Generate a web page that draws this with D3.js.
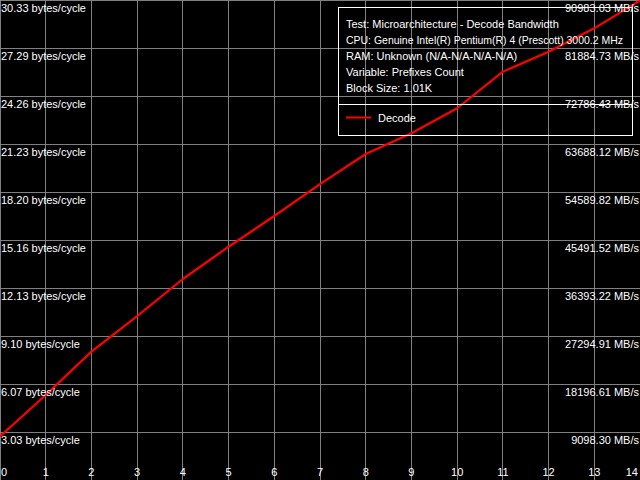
<!DOCTYPE html>
<html>
<head>
<meta charset="utf-8">
<script src="https://cdn.jsdelivr.net/npm/d3@7"></script>
<style>
  html, body { margin: 0; padding: 0; background: #000; }
  svg { display: block; }
  text { font-family: "Liberation Sans", Arial, sans-serif; font-size: 11px; fill: #fff; }
</style>
</head>
<body>
<svg id="chart" width="640" height="480"></svg>
<script>
// ---- data ----
const prefixCounts = [0, 1, 2, 3, 4, 5, 6, 7, 8, 9, 10, 11, 12, 13, 14];
const decodeValues = [2.75, 5.37, 8.11, 10.36, 12.70, 14.74, 16.68, 18.70, 20.60, 21.91, 23.49, 25.80, 27.06, 28.54, 30.30];
const yTickValues = [3.033, 6.066, 9.099, 12.132, 15.165, 18.198, 21.231, 24.264, 27.297, 30.33];
const yTickLabelsLeft = ["3.03 bytes/cycle", "6.07 bytes/cycle", "9.10 bytes/cycle", "12.13 bytes/cycle", "15.16 bytes/cycle",
  "18.20 bytes/cycle", "21.23 bytes/cycle", "24.26 bytes/cycle", "27.29 bytes/cycle", "30.33 bytes/cycle"];
const yTickLabelsRight = ["9098.30 MB/s", "18196.61 MB/s", "27294.91 MB/s", "36393.22 MB/s", "45491.52 MB/s",
  "54589.82 MB/s", "63688.12 MB/s", "72786.43 MB/s", "81884.73 MB/s", "90983.03 MB/s"];
const xTickValues = [0, 1, 2, 3, 4, 5, 6, 7, 8, 9, 10, 11, 12, 13, 14];
const infoLines = [
  "Test: Microarchitecture - Decode Bandwidth",
  "CPU: Genuine Intel(R) Pentium(R) 4 (Prescott) 3000.2 MHz",
  "RAM: Unknown (N/A-N/A-N/A-N/A)",
  "Variable: Prefixes Count",
  "Block Size: 1.01K"
];
const seriesName = "Decode";

// ---- chart ----
const W = 640, H = 480;
const svg = d3.select("#chart");
svg.append("rect").attr("width", W).attr("height", H).attr("fill", "#000");

const x = d3.scaleLinear().domain([0, 14]).range([0, W]);
const y = d3.scaleLinear().domain([0, 30.33]).range([H, 0]);

const gx = v => Math.floor(x(v)) + 0.5;
const gy = v => Math.round(y(v)) + 0.5;

// grid
const grid = svg.append("g").attr("stroke", "#808080").attr("stroke-width", 1);
grid.selectAll("line.v").data(xTickValues).join("line")
  .attr("class", "v")
  .attr("x1", d => gx(d)).attr("x2", d => gx(d))
  .attr("y1", 0).attr("y2", H);
grid.selectAll("line.h").data(yTickValues).join("line")
  .attr("class", "h")
  .attr("x1", 0).attr("x2", W)
  .attr("y1", d => gy(d)).attr("y2", d => gy(d));

// series line
const line = d3.line().x((d, i) => x(prefixCounts[i])).y(d => y(d));
svg.append("path")
  .datum(decodeValues)
  .attr("d", line)
  .attr("fill", "none")
  .attr("stroke", "#ff0000")
  .attr("stroke-width", 2.2)
  .attr("stroke-linejoin", "round");

// left labels
svg.append("g").selectAll("text").data(yTickValues).join("text")
  .attr("x", 1)
  .attr("y", d => Math.round(y(d)) + 12)
  .text((d, i) => yTickLabelsLeft[i]);

// right labels
svg.append("g").selectAll("text").data(yTickValues).join("text")
  .attr("x", 639)
  .attr("y", d => Math.round(y(d)) + 12)
  .attr("text-anchor", "end")
  .text((d, i) => yTickLabelsRight[i]);

// x labels
svg.append("g").selectAll("text").data(xTickValues).join("text")
  .attr("x", d => d === 0 ? 1 : (d === 14 ? 638 : x(d)))
  .attr("y", 476)
  .attr("text-anchor", d => d === 0 ? "start" : (d === 14 ? "end" : "middle"))
  .text(d => d);

// legend box
const lg = svg.append("g");
lg.append("rect")
  .attr("x", 338.5).attr("y", 7.5).attr("width", 294).attr("height", 128)
  .attr("fill", "none").attr("stroke", "#fff").attr("stroke-width", 1);
lg.append("line")
  .attr("x1", 338.5).attr("x2", 632.5).attr("y1", 104.5).attr("y2", 104.5)
  .attr("stroke", "#fff").attr("stroke-width", 1);
lg.selectAll("text.info").data(infoLines).join("text")
  .attr("class", "info")
  .attr("x", 346)
  .attr("y", (d, i) => 27.5 + i * 16)
  .each(function (d, i) {
    if (i === 1) d3.select(this).attr("textLength", 277).attr("lengthAdjust", "spacingAndGlyphs");
  })
  .text(d => d);
lg.append("line")
  .attr("x1", 346).attr("x2", 371).attr("y1", 117.5).attr("y2", 117.5)
  .attr("stroke", "#ff0000").attr("stroke-width", 2);
lg.append("text").attr("x", 378).attr("y", 121.5).text(seriesName);
</script>
</body>
</html>
